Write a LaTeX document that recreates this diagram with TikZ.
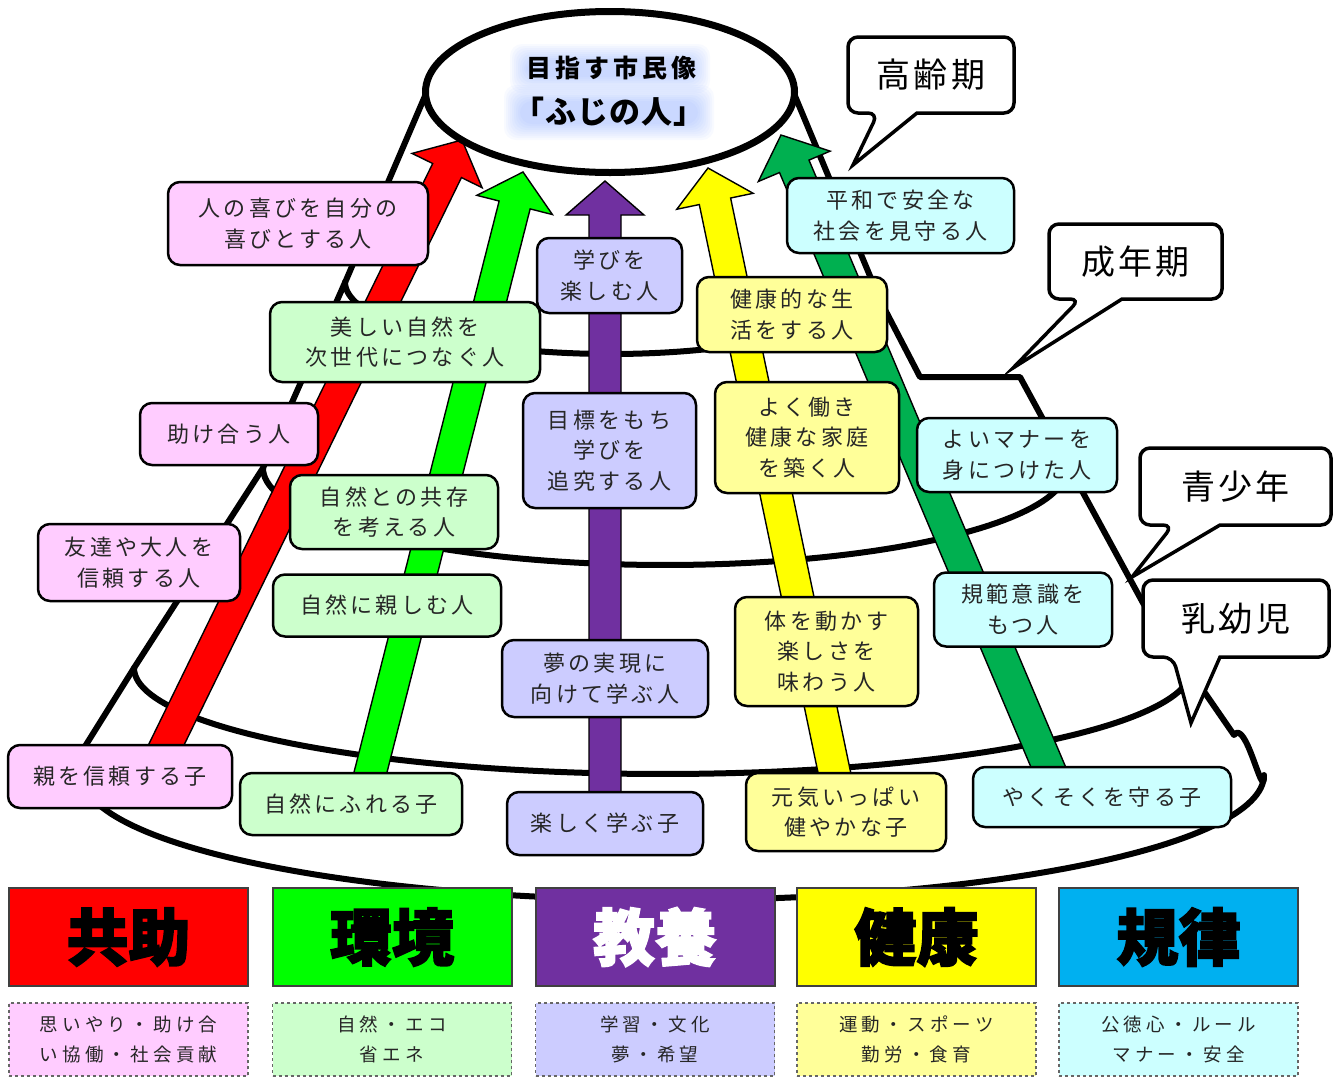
\documentclass[tikz,border=0pt]{standalone}
\usepackage{fontspec}
\setmainfont{Noto Sans CJK JP}
\newfontfamily\jpbox[LetterSpace=15]{Noto Sans CJK JP}
\newfontfamily\jpsmall[LetterSpace=23]{Noto Sans CJK JP}
\newfontfamily\jpcall[LetterSpace=9]{Noto Sans CJK JP}
\newfontfamily\jpheavy[FakeBold=2.5]{Noto Sans CJK JP}
\newfontfamily\jptitle[LetterSpace=16]{Noto Sans CJK JP}
\newfontfamily\jptitleb[LetterSpace=3]{Noto Sans CJK JP}
\usetikzlibrary{calc,shapes.geometric}

\definecolor{cPink}{RGB}{255,204,255}
\definecolor{cGreen}{RGB}{204,255,204}
\definecolor{cLav}{RGB}{204,204,255}
\definecolor{cYel}{RGB}{255,255,153}
\definecolor{cCyan}{RGB}{204,255,255}
\definecolor{aRed}{RGB}{255,0,0}
\definecolor{aGreen}{RGB}{0,255,0}
\definecolor{aPurple}{RGB}{112,48,160}
\definecolor{aYellow}{RGB}{255,255,0}
\definecolor{aDkGreen}{RGB}{0,176,80}
\definecolor{aBlue}{RGB}{0,176,240}
\definecolor{glow}{RGB}{90,140,255}

\tikzset{
  outl/.style={line width=6pt, line join=round, line cap=round},
  sz/.style 2 args={minimum width=#1pt, minimum height=#2pt},
  pbox/.style={draw=black, line width=2.5pt, rounded corners=12pt, inner sep=0pt,
    align=center, text=black!85, font=\jpbox\fontsize{22}{30.5}\selectfont},
  cat/.style={draw=black!75, line width=2pt, inner sep=0pt, sz={239}{98},
    font=\jpheavy\bfseries\fontsize{62}{62}\selectfont},
  sub/.style={draw=black!60, dashed, line width=1.2pt, inner sep=0pt, sz={239}{73},
    align=center, text=black!85, font=\jpsmall\fontsize{18.5}{30}\selectfont},
  callout/.style={draw=black, line width=3.5pt, fill=white, line join=miter},
  calltext/.style={inner sep=0pt, font=\jpcall\fontsize{34}{36}\selectfont},
  arrowline/.style={draw=black, line width=1.4pt, line join=miter},
  haze/.style={glow, opacity=0.04, rounded corners=12pt},
}

\newcommand\blockarrow[3]{%
  \coordinate (bh) at ($(#2)!34pt!(#1)$);
  \filldraw[arrowline, fill=#3]
    ($(#1)!16pt!90:(#2)$) -- ($(bh)!16pt!-90:(#1)$) -- ($(bh)!39pt!-90:(#1)$) --
    (#2) -- ($(bh)!39pt!90:(#1)$) -- ($(bh)!16pt!90:(#1)$) --
    ($(#1)!16pt!-90:(#2)$) -- cycle;
}

\begin{document}
\begin{tikzpicture}[x=1pt,y=-1pt]
\useasboundingbox (0,0) rectangle (1338,1077);
\fill[white] (0,0) rectangle (1338,1077);

% ---- tier outline ----
\draw[outl] (425,96) -- (347,278) -- (263,468) -- (134,668) -- (84,748) -- (82,775);
\draw[outl] (795,96) -- (880,300) -- (920,377) -- (1020,377) -- (1143,603) -- (1234,735) to[out=55,in=-95] (1264,778);
\draw[outl] plot[domain=180:360,samples=90] ({611+266*cos(\x)},{282-72*sin(\x)});
\draw[outl] plot[domain=180:360,samples=90] ({665+402*cos(\x)},{468-97*sin(\x)});
\draw[outl] plot[domain=180:360,samples=100] ({663+529*cos(\x)},{668-106*sin(\x)});
\draw[outl] plot[domain=180:360,samples=120] ({673+591*cos(\x)},{775-125*sin(\x)});

% ---- arrows ----
\coordinate (rS) at (154,770);  \coordinate (rT) at (462,140);
\coordinate (gS) at (366,790);  \coordinate (gT) at (523,172);
\coordinate (pS) at (605,810);  \coordinate (pT) at (605,181);
\coordinate (yS) at (838,790);  \coordinate (yT) at (708,168);
\coordinate (dS) at (1058,790); \coordinate (dT) at (781,135);
\blockarrow{rS}{rT}{aRed}
\blockarrow{gS}{gT}{aGreen}
\blockarrow{pS}{pT}{aPurple}
\blockarrow{yS}{yT}{aYellow}
\blockarrow{dS}{dT}{aDkGreen}

% ---- goal ellipse ----
\node[ellipse, draw=black, line width=7pt, fill=white, inner sep=0pt, sz={369}{161}] (goal) at (610,92) {};
\foreach \k in {0,...,8} {
  \fill[haze] ({526-2*\k},{60-2*\k}) rectangle ({694+2*\k},{77+2*\k});
  \fill[haze] ({520-2*\k},{101-2*\k}) rectangle ({698+2*\k},{124+2*\k});
}
\node[font=\jptitle\bfseries\fontsize{25}{25}\selectfont] (title1) at (611,68) {目指す市民像};
\node[font=\jptitleb\bfseries\fontsize{31}{31}\selectfont] (title2) at (609,112) {「ふじの人」};

% ---- boxes ----
\node[pbox, fill=cPink,  sz={260}{83}]  (b1)  at (298,223.5)  {人の喜びを自分の\\喜びとする人};
\node[pbox, fill=cGreen, sz={270}{80}]  (b2)  at (405,342)    {美しい自然を\\次世代につなぐ人};
\node[pbox, fill=cLav,   sz={145}{75}]  (b3)  at (609.5,275.5) {学びを\\楽しむ人};
\node[pbox, fill=cYel,   sz={190}{75}]  (b4)  at (792,314.5)  {健康的な生\\活をする人};
\node[pbox, fill=cCyan,  sz={227}{75}]  (b5)  at (900.5,215.5) {平和で安全な\\社会を見守る人};
\node[pbox, fill=cPink,  sz={178}{62}]  (b6)  at (229,434)    {助け合う人};
\node[pbox, fill=cGreen, sz={208}{74}]  (b7)  at (394,512)    {自然との共存\\を考える人};
\node[pbox, fill=cLav,   sz={173}{115}] (b8)  at (609.5,450.5) {目標をもち\\学びを\\追究する人};
\node[pbox, fill=cYel,   sz={184}{111}] (b9)  at (807,437.5)  {よく働き\\健康な家庭\\を築く人};
\node[pbox, fill=cCyan,  sz={200}{74}]  (b10) at (1017,455)   {よいマナーを\\身につけた人};
\node[pbox, fill=cPink,  sz={202}{77}]  (b11) at (139,562.5)  {友達や大人を\\信頼する人};
\node[pbox, fill=cGreen, sz={228}{62}]  (b12) at (387,605.5)  {自然に親しむ人};
\node[pbox, fill=cLav,   sz={206}{77}]  (b13) at (605,678.5)  {夢の実現に\\向けて学ぶ人};
\node[pbox, fill=cYel,   sz={183}{109}] (b14) at (826.5,651.5) {体を動かす\\楽しさを\\味わう人};
\node[pbox, fill=cCyan,  sz={178}{74}]  (b15) at (1023,609.5)  {規範意識を\\もつ人};
\node[pbox, fill=cPink,  sz={224}{63}]  (b16) at (120,776.5)  {親を信頼する子};
\node[pbox, fill=cGreen, sz={222}{62}]  (b17) at (351,804)    {自然にふれる子};
\node[pbox, fill=cLav,   sz={196}{63}]  (b18) at (605,823.5)  {楽しく学ぶ子};
\node[pbox, fill=cYel,   sz={200}{78}]  (b19) at (846,812)    {元気いっぱい\\健やかな子};
\node[pbox, fill=cCyan,  sz={258}{60}]  (b20) at (1102,797)   {やくそくを守る子};

% ---- callouts ----
\draw[callout] (878,113) -- (853,165) -- (917,113) [rounded corners=10pt] -- (1014,113) -- (1014,37) -- (848,37) -- (848,113) -- cycle;
\node[calltext] (kourei) at (931,75) {高齢期};
\draw[callout] (1080,299) -- (1013,368) -- (1122,299) [rounded corners=10pt] -- (1222,299) -- (1222,224) -- (1049,224) -- (1049,299) -- cycle;
\node[calltext] (seinen) at (1135.5,261.5) {成年期};
\draw[callout] (1173,525) -- (1132,577) -- (1220,525) [rounded corners=10pt] -- (1331,525) -- (1331,448) -- (1140,448) -- (1140,525) -- cycle;
\node[calltext] (seisho) at (1235.5,486.5) {青少年};
\draw[callout] (1173,657) -- (1191,723) -- (1220,657) [rounded corners=10pt] -- (1329,657) -- (1329,580) -- (1143,580) -- (1143,657) -- cycle;
\node[calltext] (nyuyo) at (1236,618.5) {乳幼児};

% ---- category boxes ----
\node[cat, fill=aRed]    (c1) at (128.5,937) {共助};
\node[cat, fill=aGreen]  (c2) at (392,937)   {環境};
\node[cat, fill=aPurple, text=white] (c3) at (655,937) {教養};
\node[cat, fill=aYellow] (c4) at (916.5,937) {健康};
\node[cat, fill=aBlue]   (c5) at (1178.5,937) {規律};

\node[sub, fill=cPink]  (s1) at (128.5,1039.5) {思いやり・助け合\\い協働・社会貢献};
\node[sub, fill=cGreen] (s2) at (392,1039.5)   {自然・エコ\\省エネ};
\node[sub, fill=cLav]   (s3) at (655,1039.5)   {学習・文化\\夢・希望};
\node[sub, fill=cYel]   (s4) at (916.5,1039.5) {運動・スポーツ\\勤労・食育};
\node[sub, fill=cCyan]  (s5) at (1178.5,1039.5) {公徳心・ルール\\マナー・安全};
\end{tikzpicture}
\end{document}
